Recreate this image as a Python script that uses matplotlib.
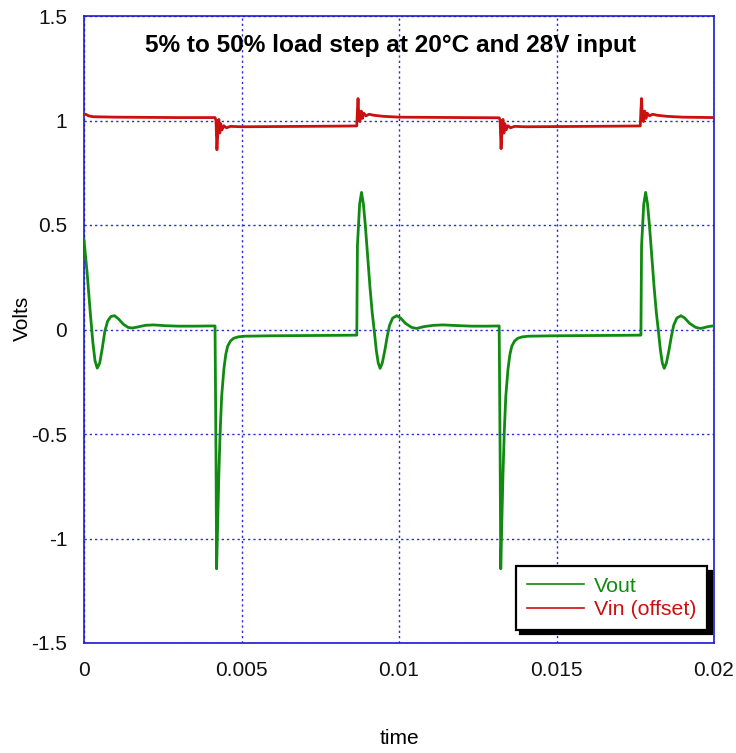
import matplotlib
matplotlib.use("Agg")
import matplotlib.pyplot as plt

plt.rcParams['font.family'] = ['Liberation Sans', 'DejaVu Sans']

# ---- data ----
t_out = [0.0, 0.00010, 0.00020, 0.00028, 0.00035, 0.00042, 0.00050, 0.00058, 0.00066, 0.00075,
         0.00085, 0.00097, 0.00110, 0.00125, 0.00140, 0.00153, 0.00170, 0.00195, 0.00220, 0.00260,
         0.00300, 0.00350, 0.00400, 0.00416,
         0.00419, 0.00421, 0.00424, 0.00428, 0.00432, 0.00437, 0.00444, 0.00450, 0.00456, 0.00465,
         0.00475, 0.00490, 0.00510, 0.00600, 0.00700, 0.00800, 0.00866,
         0.00868, 0.00875, 0.00881, 0.00887, 0.00893, 0.00900, 0.00908, 0.00915, 0.00921, 0.00928,
         0.00934, 0.00940, 0.00947, 0.00955, 0.00963, 0.00970, 0.00980, 0.00993, 0.01005, 0.01020,
         0.01040, 0.01056, 0.01080, 0.01110, 0.01140, 0.01180, 0.01230, 0.01280, 0.01318,
         0.01321, 0.01323, 0.01326, 0.01330, 0.01334, 0.01339, 0.01346, 0.01352, 0.01358, 0.01367,
         0.01377, 0.01392, 0.01412, 0.01500, 0.01600, 0.01700, 0.01768,
         0.01770, 0.01777, 0.01783, 0.01789, 0.01795, 0.01802, 0.01810, 0.01817, 0.01823, 0.01830,
         0.01836, 0.01842, 0.01849, 0.01857, 0.01865, 0.01872, 0.01882, 0.01895, 0.01907, 0.01922,
         0.01942, 0.01958, 0.01982, 0.02000]
v_out = [0.43, 0.27, 0.08, -0.06, -0.15, -0.185, -0.16, -0.09, -0.01, 0.04,
         0.062, 0.066, 0.05, 0.025, 0.01, 0.007, 0.012, 0.02, 0.022, 0.018,
         0.016, 0.016, 0.017, 0.017,
         -0.6, -1.145, -0.95, -0.70, -0.50, -0.32, -0.19, -0.12, -0.08, -0.055,
         -0.042, -0.035, -0.032, -0.030, -0.029, -0.028, -0.027,
         0.40, 0.60, 0.656, 0.60, 0.50, 0.36, 0.20, 0.08, 0.0, -0.10,
         -0.16, -0.186, -0.16, -0.10, -0.03, 0.02, 0.055, 0.066, 0.055, 0.03,
         0.01, 0.005, 0.014, 0.02, 0.022, 0.019, 0.016, 0.016, 0.017,
         -0.6, -1.145, -0.95, -0.70, -0.50, -0.32, -0.19, -0.12, -0.08, -0.055,
         -0.042, -0.035, -0.032, -0.030, -0.029, -0.028, -0.027,
         0.40, 0.60, 0.656, 0.60, 0.50, 0.36, 0.20, 0.08, 0.0, -0.10,
         -0.16, -0.186, -0.16, -0.10, -0.03, 0.02, 0.055, 0.066, 0.055, 0.03,
         0.01, 0.005, 0.014, 0.018]

t_in = [0.0, 0.00005, 0.00015, 0.00030, 0.00100, 0.00200, 0.00300, 0.00416,
        0.00419, 0.00422, 0.00425, 0.00428, 0.00431, 0.00434, 0.00438, 0.00444, 0.00452, 0.00465,
        0.00500, 0.00600, 0.00700, 0.00800, 0.00866,
        0.00868, 0.00870, 0.00873, 0.00876, 0.00880, 0.00884, 0.00888, 0.00895, 0.00905, 0.00920,
        0.00950, 0.01000, 0.01100, 0.01200, 0.01318,
        0.01321, 0.01324, 0.01327, 0.01330, 0.01333, 0.01336, 0.01340, 0.01346, 0.01354, 0.01367,
        0.01402, 0.01500, 0.01600, 0.01700, 0.01766,
        0.01768, 0.01770, 0.01773, 0.01776, 0.01780, 0.01784, 0.01788, 0.01795, 0.01805, 0.01820,
        0.01850, 0.01900, 0.02000]
v_in = [1.028, 1.030, 1.022, 1.018, 1.016, 1.015, 1.014, 1.014,
        1.00, 0.86, 0.95, 1.005, 0.94, 0.985, 0.955, 0.975, 0.965, 0.972,
        0.970, 0.971, 0.972, 0.973, 0.974,
        1.05, 1.105, 1.00, 0.995, 1.045, 1.01, 1.035, 1.022, 1.03, 1.025,
        1.02, 1.016, 1.015, 1.014, 1.013,
        1.00, 0.865, 0.95, 1.005, 0.94, 0.985, 0.955, 0.975, 0.965, 0.972,
        0.970, 0.971, 0.972, 0.973, 0.974,
        1.05, 1.105, 1.00, 0.995, 1.045, 1.01, 1.035, 1.022, 1.03, 1.025,
        1.02, 1.016, 1.014]

x_ticks = [0, 0.005, 0.01, 0.015, 0.02]
x_tick_labels = ['0', '0.005', '0.01', '0.015', '0.02']
y_ticks = [-1.5, -1, -0.5, 0, 0.5, 1, 1.5]
y_tick_labels = ['-1.5', '-1', '-0.5', '0', '0.5', '1', '1.5']

title = '5% to 50% load step at 20°C and 28V input'

# ---- figure ----
fig = plt.figure(figsize=(7.36, 7.53), dpi=100)
ax = fig.add_axes([84/736, 1 - 643/753, 630/736, 627/753])

ax.plot(t_out, v_out, color='#118a11', lw=2.0, label='Vout', zorder=3)
ax.plot(t_in, v_in, color='#cc0f0f', lw=2.0, label='Vin (offset)', zorder=3)

ax.set_xlim(0, 0.02)
ax.set_ylim(-1.5, 1.5)
ax.set_xticks(x_ticks)
ax.set_xticklabels(x_tick_labels)
ax.set_yticks(y_ticks)
ax.set_yticklabels(y_tick_labels)
ax.tick_params(axis='both', length=0, labelsize=15, colors='#111111')
ax.tick_params(axis='x', pad=13)
ax.tick_params(axis='y', pad=12)

ax.grid(True, color='#2a2ad8', linestyle=(0, (1.6, 2.2)), lw=1.0, zorder=1)
for s in ax.spines.values():
    s.set_color('#1a1ad0')
    s.set_linewidth(1.2)

ax.text(0.487, 0.953, title, transform=ax.transAxes, ha='center', va='center',
        fontsize=17.6, fontweight='bold', color='black')

fig.text(22/736, 1 - 318/753, 'Volts', rotation=90, ha='center', va='center', fontsize=15)
fig.text(399/736, 1 - 738/753, 'time', ha='center', va='center', fontsize=15)

leg = ax.legend(loc='lower right', bbox_to_anchor=(0.989, 0.021), borderaxespad=0,
                fontsize=15.4, labelcolor='linecolor', fancybox=False, framealpha=1,
                edgecolor='black', handlelength=2.7, handletextpad=0.45,
                borderpad=0.5, labelspacing=0.2,
                shadow={'color': 'black', 'alpha': 1, 'ox': 3.2, 'oy': -3.2})
leg.get_frame().set_linewidth(1.6)
for line in leg.get_lines():
    line.set_linewidth(1.2)

fig.savefig('out.png', dpi=100)
